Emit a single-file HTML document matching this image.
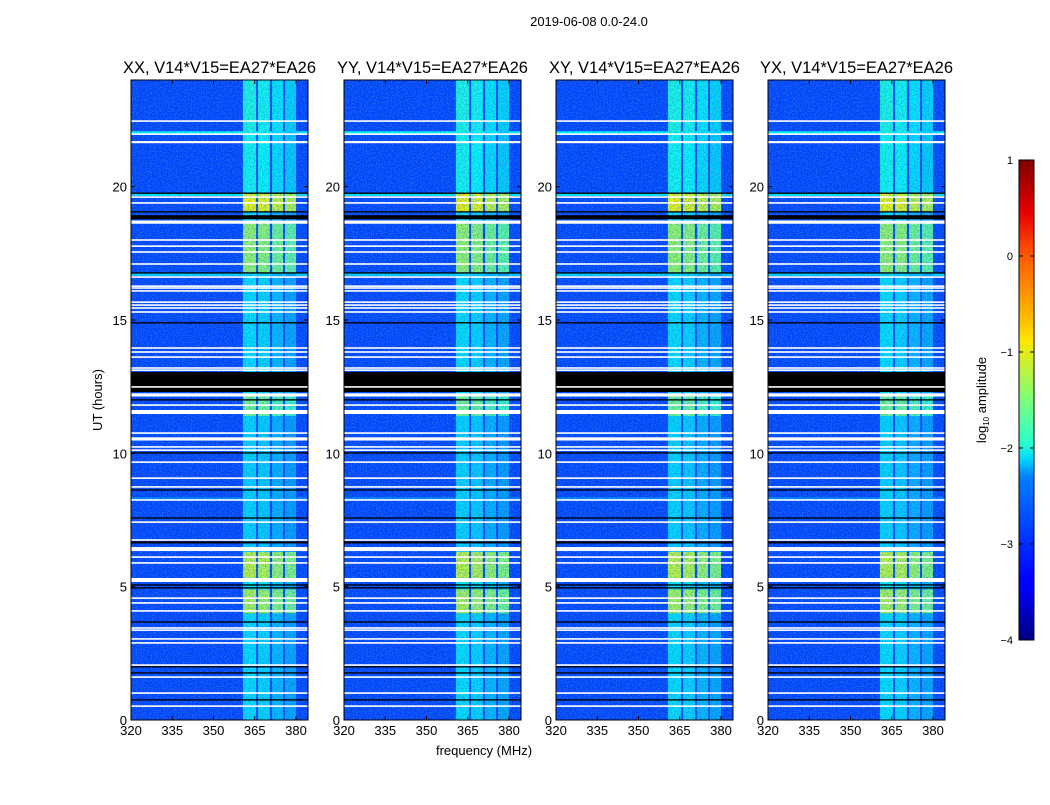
<!DOCTYPE html>
<html><head><meta charset="utf-8">
<style>
body{margin:0;background:#fff;}
svg text{font-family:"Liberation Sans",sans-serif;fill:#000;}
</style></head>
<body>
<svg id="fig" width="1050" height="800" xmlns="http://www.w3.org/2000/svg">
<defs>
<filter id="darkspk" x="0" y="0" width="1" height="1">
<feTurbulence type="fractalNoise" baseFrequency="0.75" numOctaves="2" seed="3"/>
<feColorMatrix type="matrix" values="0 0 0 0 0  0 0 0 0 0.05  0 0 0 0 0.5  3 0 0 0 -1.25"/>
</filter>
<filter id="litespk" x="0" y="0" width="1" height="1">
<feTurbulence type="fractalNoise" baseFrequency="0.8" numOctaves="2" seed="11"/>
<feColorMatrix type="matrix" values="0 0 0 0 0.1  0 0 0 0 0.6  0 0 0 0 1  0 3 0 0 -1.3"/>
</filter>
<linearGradient id="jet" x1="0" y1="1" x2="0" y2="0">
<stop offset="0" stop-color="#00007f"/><stop offset="0.11" stop-color="#0000ff"/>
<stop offset="0.125" stop-color="#0000ff"/><stop offset="0.34" stop-color="#0080ff"/>
<stop offset="0.375" stop-color="#00d4ff"/><stop offset="0.41" stop-color="#29ffce"/>
<stop offset="0.5" stop-color="#7dff7a"/><stop offset="0.625" stop-color="#ffe600"/>
<stop offset="0.66" stop-color="#ffc400"/><stop offset="0.8" stop-color="#ff5a00"/>
<stop offset="0.89" stop-color="#e80000"/><stop offset="1" stop-color="#7f0000"/>
</linearGradient>
</defs>
<text x="589" y="26" font-size="13" text-anchor="middle">2019-06-08 0.0-24.0</text>
<text transform="translate(102,400) rotate(-90)" font-size="13" text-anchor="middle">UT (hours)</text>
<text x="484" y="755" font-size="13" text-anchor="middle">frequency (MHz)</text>
<g id="panels"></g>
<g>
<rect x="1019" y="160" width="15" height="480" fill="url(#jet)" stroke="#000" stroke-width="1"/>
<g id="cbticks"></g>
<text transform="translate(986,400) rotate(-90)" font-size="13" text-anchor="middle">log<tspan font-size="8" dy="3">10</tspan><tspan dy="-3"> amplitude</tspan></text>
</g>
</svg>
<script>
const NS='http://www.w3.org/2000/svg';
const titles=['XX, V14*V15=EA27*EA26','YY, V14*V15=EA27*EA26','XY, V14*V15=EA27*EA26','YX, V14*V15=EA27*EA26'];
const panelLeft=[131,344,556,768];
const xTicks=[320,335,350,365,380];
const yTicks=[0,5,10,15,20];
const cbTicks=[1,0,-1,-2,-3,-4];
// bright frequency bands (MHz)
const bandStart=[360.7,366.2,371.3,376.0];
const bandEnd=[365.5,370.5,375.3,380.0];
const bandBoost=[0.15,0.1,-0.05,-0.15];
// time segments: band log-amplitude
const segStart=[0,4.0,4.9,5.3,6.3,11.4,12.2,16.75,18.7,19.05,19.75,22.0];
const segEnd=[4.0,4.9,5.3,6.3,11.4,12.2,16.75,18.7,19.05,19.75,22.0,24];
const segLevel=[-2.4,-1.4,-2.3,-1.3,-2.45,-1.7,-2.4,-1.5,-2.4,-1.05,-2.2,-2.15];
const bgLevel=-3.05;
// full-width cyan rows (hour, level)
const rowHour=[22.03,19.7,16.7,8.3];
const rowLevel=[-2.1,-2.2,-2.3,-2.7];
// flagged (white) rows: hour, thickness in hours
const whiteHour=[22.46,21.97,21.67,19.61,19.39,18.67,18.0,17.77,17.55,17.1,16.61,16.27,16.2,16.09,15.67,15.56,15.45,15.3,13.95,13.8,13.61,13.2,13.12,12.49,12.19,11.81,11.55,10.76,10.54,10.24,10.12,9.67,9.07,8.74,8.25,7.42,6.75,6.41,6.11,5.89,5.25,4.57,4.39,4.09,3.45,3.37,3.04,2.89,2.06,1.61,1.01,0.52];
const whiteThick=[.05,.06,.08,.05,.05,.12,.05,.05,.05,.05,.05,.04,.04,.04,.05,.04,.04,.05,.05,.04,.05,.04,.04,.05,.12,.05,.15,.05,.12,.05,.05,.05,.05,.05,.05,.05,.05,.15,.05,.05,.15,.05,.05,.05,.04,.04,.05,.05,.05,.05,.05,.05];
// black (no-data) rows
const blackStart=[19.73,19.03,18.78,16.74,14.87,12.3,11.98,9.99,8.6,7.55,6.62,5.04,4.93,3.65,1.97,1.74,0.73];
const blackEnd=[19.78,19.08,18.93,16.79,14.92,13.05,12.03,10.04,8.65,7.6,6.7,5.09,4.98,3.7,2.02,1.79,0.78];

const yTop=80,yBottom=720,pw=177;
const yS=h=>yBottom-(h/24)*(yBottom-yTop);
const xS=(f,L)=>L+(f-320)*2.75;
function jet(v){let t=Math.max(0,Math.min(1,(v+4)/5));
 const c=x=>Math.round(255*Math.max(0,Math.min(1,1.5-Math.abs(4*t-x))));
 return `rgb(${c(3)},${c(2)},${c(1)})`;}
function mk(tag,attrs,parent){const e=document.createElementNS(NS,tag);for(const k in attrs)e.setAttribute(k,attrs[k]);parent.appendChild(e);return e;}
const P=document.getElementById('panels');
panelLeft.forEach((L,pi)=>{
 const g=mk('g',{},P);
 
 
 const t=mk('text',{x:L+pw/2,y:73,'font-size':16.5,'text-anchor':'middle'},g);t.textContent=titles[pi];
 
 
 mk('rect',{x:L,y:yTop,width:pw,height:yBottom-yTop,fill:jet(bgLevel)},g);
 rowHour.forEach((h,i)=>{const r=mk('rect',{x:L,y:yS(h+0.05),width:pw,height:yS(h-0.05)-yS(h+0.05),fill:jet(rowLevel[i])},g);
  
  });
 segStart.forEach((s,si)=>{bandStart.forEach((b,bi)=>{
  const r=mk('rect',{x:xS(b,L),y:yS(segEnd[si]),width:xS(bandEnd[bi],L)-xS(b,L),height:yS(s)-yS(segEnd[si]),fill:jet(segLevel[si]+bandBoost[bi])},g);
  
  });});
 mk('rect',{x:L,y:yTop,width:pw,height:yBottom-yTop,fill:'#000',filter:'url(#darkspk)',opacity:0.45},g);
 mk('rect',{x:L,y:yTop,width:pw,height:yBottom-yTop,fill:'#000',filter:'url(#litespk)',opacity:0.4},g);
 blackStart.forEach((s,i)=>{const r=mk('rect',{x:L,y:yS(blackEnd[i]),width:pw,height:yS(s)-yS(blackEnd[i]),fill:'#000'},g);
  
  });
 whiteHour.forEach((h,i)=>{const d=Math.max(whiteThick[i],0.06);const r=mk('rect',{x:L,y:yS(h+d/2),width:pw,height:yS(h-d/2)-yS(h+d/2),fill:'#fff'},g);
  
  });
 mk('rect',{x:L,y:yTop,width:pw,height:yBottom-yTop,fill:'none',stroke:'#000','stroke-width':1},g);
 xTicks.forEach(v=>{const x=xS(v,L);
  mk('line',{x1:x,x2:x,y1:yBottom,y2:yBottom-4,stroke:'#000'},g);
  mk('line',{x1:x,x2:x,y1:yTop,y2:yTop+4,stroke:'#000'},g);
  const tx=mk('text',{x:x,y:yBottom+15,'font-size':13,'text-anchor':'middle'},g);tx.textContent=v;
  
  });
 yTicks.forEach(v=>{const y=yS(v);
  mk('line',{x1:L,x2:L+4,y1:y,y2:y,stroke:'#000'},g);
  mk('line',{x1:L+pw,x2:L+pw-4,y1:y,y2:y,stroke:'#000'},g);
  const ty=mk('text',{x:L-4,y:y+5,'font-size':13,'text-anchor':'end'},g);ty.textContent=v;
  
  });
});
const CB=document.getElementById('cbticks');
cbTicks.forEach(v=>{const y=160+(1-v)/5*480;
 mk('line',{x1:1019,x2:1023,y1:y,y2:y,stroke:'#000'},CB);
 mk('line',{x1:1034,x2:1030,y1:y,y2:y,stroke:'#000'},CB);
 const t=mk('text',{x:1013,y:y+4,'font-size':11,'text-anchor':'end'},CB);t.textContent=v<0?'\u2212'+(-v):v;
 
 });
</script>
</body></html>
